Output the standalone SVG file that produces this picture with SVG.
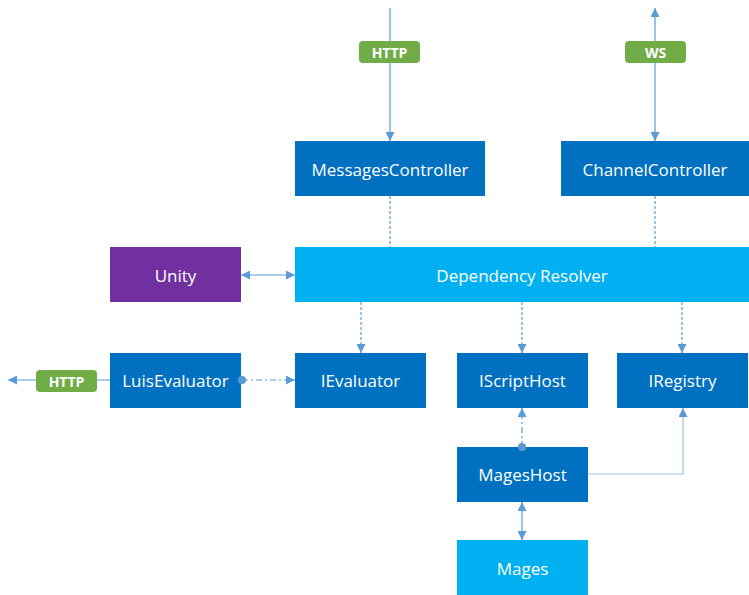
<svg xmlns="http://www.w3.org/2000/svg" width="749" height="595" viewBox="0 0 749 595">
<defs>
<style>
.dark{fill:#0070C0}
.light{fill:#00B0F0}
.purple{fill:#7030A0}
.t{font-family:"Open Sans","Noto Sans",sans-serif;font-size:17px;fill:#fff;text-anchor:middle;dominant-baseline:central}
.tag{fill:#70AD47}
.tt{font-family:"Open Sans","Noto Sans",sans-serif;font-size:14px;font-weight:bold;fill:#fff;text-anchor:middle;dominant-baseline:central}
.ln{stroke:#5B9BD5;stroke-width:1.2;fill:none}
.dash{stroke-dasharray:3 2}
.dd{stroke-dasharray:6 3 2 3}
</style>
<marker id="ah" viewBox="0 0 10 10" refX="10" refY="5" markerWidth="9" markerHeight="9" markerUnits="userSpaceOnUse" orient="auto-start-reverse">
<path d="M0,0 L10,5 L0,10 z" fill="#5B9BD5"/>
</marker>
<marker id="dot" viewBox="0 0 10 10" refX="5" refY="5" markerWidth="8" markerHeight="8" markerUnits="userSpaceOnUse">
<circle cx="5" cy="5" r="5" fill="#5B9BD5"/>
</marker>
</defs>
<g id="messages-controller"><rect class="dark" x="295" y="141" width="190" height="55"/><text class="t" x="390" y="169">MessagesController</text></g>
<g id="channel-controller"><rect class="dark" x="561" y="141" width="188" height="55"/><text class="t" x="655" y="169">ChannelController</text></g>
<g id="unity"><rect class="purple" x="110" y="247" width="131" height="55"/><text class="t" x="175.5" y="275">Unity</text></g>
<g id="dependency-resolver"><rect class="light" x="295" y="247" width="454" height="55"/><text class="t" x="522" y="275">Dependency Resolver</text></g>
<g id="luis-evaluator"><rect class="dark" x="110" y="353" width="131" height="55"/><text class="t" x="175.5" y="380">LuisEvaluator</text></g>
<g id="ievaluator"><rect class="dark" x="295" y="353" width="131" height="55"/><text class="t" x="360.5" y="380">IEvaluator</text></g>
<g id="iscripthost"><rect class="dark" x="457" y="353" width="131" height="55"/><text class="t" x="522.5" y="380">IScriptHost</text></g>
<g id="iregistry"><rect class="dark" x="617" y="353" width="131" height="55"/><text class="t" x="682.5" y="380">IRegistry</text></g>
<g id="mageshost"><rect class="dark" x="457" y="447" width="131" height="55"/><text class="t" x="522.5" y="474">MagesHost</text></g>
<g id="mages"><rect class="light" x="457" y="540" width="131" height="55"/><text class="t" x="522.5" y="568">Mages</text></g>
<g id="connectors">
<line class="ln" x1="390" y1="8" x2="390" y2="141" marker-end="url(#ah)"/>
<line class="ln" x1="655" y1="8" x2="655" y2="141" marker-start="url(#ah)" marker-end="url(#ah)"/>
<line class="ln dash" x1="390" y1="196" x2="390" y2="247"/>
<line class="ln dash" x1="655" y1="196" x2="655" y2="247"/>
<line class="ln" x1="241" y1="275" x2="295" y2="275" marker-start="url(#ah)" marker-end="url(#ah)"/>
<line class="ln dash" x1="361" y1="302" x2="361" y2="353" marker-end="url(#ah)"/>
<line class="ln dash" x1="522" y1="302" x2="522" y2="353" marker-end="url(#ah)"/>
<line class="ln dash" x1="682" y1="302" x2="682" y2="353" marker-end="url(#ah)"/>
<line class="ln dd" x1="242" y1="380" x2="295" y2="380" marker-start="url(#dot)" marker-end="url(#ah)"/>
<line class="ln" x1="110" y1="380" x2="8" y2="380" marker-end="url(#ah)"/>
<line class="ln dd" x1="522" y1="447" x2="522" y2="408" marker-start="url(#dot)" marker-end="url(#ah)"/>
<polyline class="ln" style="stroke:#9DC3E6" points="588,474 683,474 683,408" marker-end="url(#ah)"/>
<line class="ln" x1="522" y1="502" x2="522" y2="540" marker-start="url(#ah)" marker-end="url(#ah)"/>
<g id="tag-http-top"><rect class="tag" x="359" y="41" width="61" height="22" rx="4"/><text class="tt" x="389.5" y="52">HTTP</text></g>
<g id="tag-ws"><rect class="tag" x="625" y="41" width="61" height="22" rx="4"/><text class="tt" x="655.5" y="52">WS</text></g>
<g id="tag-http-left"><rect class="tag" x="36" y="370" width="61" height="22" rx="4"/><text class="tt" x="66.5" y="381">HTTP</text></g>
</g>
</svg>
